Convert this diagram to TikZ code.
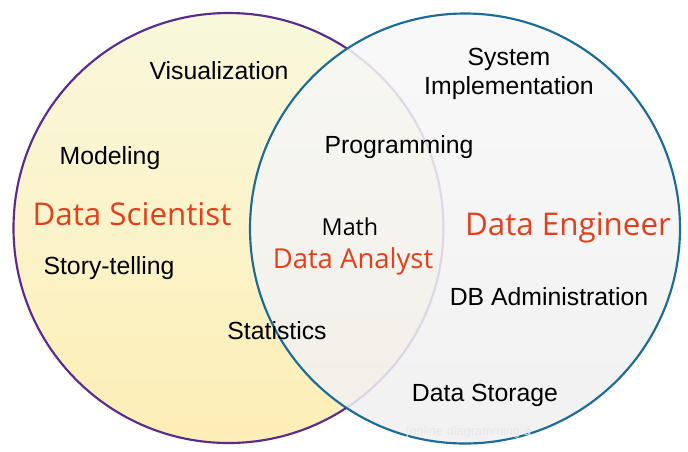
\documentclass[tikz,border=0pt]{standalone}
\usepackage{fontspec}
\setmainfont{Liberation Sans}
\newfontfamily\redfont{Open Sans}
\definecolor{rolered}{HTML}{E2401C}
\definecolor{leftedge}{HTML}{5A2A8C}
\definecolor{rightedge}{HTML}{1A6A9A}
\definecolor{ytop}{HTML}{F9F8DC}
\definecolor{ybot}{HTML}{FDEEB6}
\definecolor{gtop}{HTML}{F8F8F8}
\definecolor{gbot}{HTML}{F0F0F0}
\begin{document}
\begin{tikzpicture}[x=0.75pt,y=-0.75pt,
  skill/.style={font=\fontsize{18.6}{20}\selectfont, text=black, inner sep=0pt, align=center},
  role/.style={font=\redfont\fontsize{23.5}{26}\selectfont, text=rolered, inner sep=0pt},
  wmark/.style={font=\fontsize{9.5}{11}\selectfont, text=black!9, inner sep=0pt}]
\useasboundingbox (0,0) rectangle (688,451);
\fill[white] (0,0) rectangle (688,451);
% left circle
\shade[top color=ytop, bottom color=ybot] (228.5,228) circle[radius=215];
\draw[leftedge, line width=1.6pt] (228.5,228) circle[radius=215];
% right circle
\shade[top color=gtop, bottom color=gbot, opacity=0.86] (465,228.5) circle[radius=215];
\draw[rightedge, line width=1.6pt] (465,228.5) circle[radius=215];
% labels
\node[skill] (vis) at (219,71) {Visualization};
\node[skill] (sys) at (509,74) {System\\[2pt]Implementation};
\node[skill] (prog) at (399,147) {Programming};
\node[skill] (mod) at (110,158) {Modeling};
\node[role] (ds) at (132,214) {Data Scientist};
\node[skill, font=\redfont\fontsize{17.5}{20}\selectfont] (math) at (350,227) {Math};
\node[role] (de) at (568,228) {Data Engineer};
\node[role, font=\redfont\fontsize{20.6}{24}\selectfont] (da) at (353,261) {Data Analyst};
\node[skill] (st) at (109,268) {Story-telling};
\node[skill] (db) at (549,297) {DB Administration};
\node[skill] (stat) at (277,331) {Statistics};
\node[skill] (stor) at (485,395) {Data Storage};
\node[wmark] (wm) at (469,432) {[online diagramming \&};
\end{tikzpicture}
\end{document}
